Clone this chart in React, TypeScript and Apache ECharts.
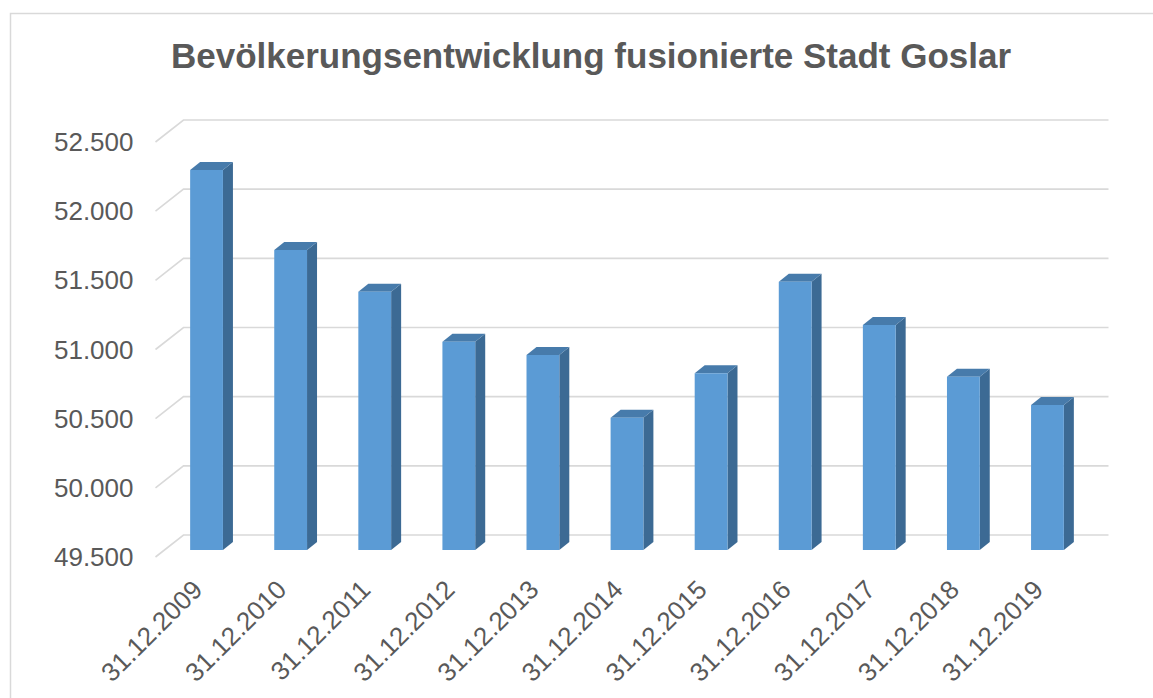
import React, { useEffect, useRef } from "react";
import * as echarts from "echarts";

const title = "Bevölkerungsentwicklung fusionierte Stadt Goslar";
const categories = [
  "31.12.2009", "31.12.2010", "31.12.2011", "31.12.2012", "31.12.2013", "31.12.2014",
  "31.12.2015", "31.12.2016", "31.12.2017", "31.12.2018", "31.12.2019",
];
const population = [52247, 51669, 51367, 51006, 50910, 50456, 50777, 51440, 51127, 50753, 50548];
const yTicks = [49500, 50000, 50500, 51000, 51500, 52000, 52500];
const yMin = 49500;
const yMax = 52500;
const yStep = 500;

const fmt = (v: number) => {
  const t = Math.floor(v / 1000);
  const r = String(v % 1000).padStart(3, "0");
  return `${t}.${r}`;
};

export default function App() {
  const ref = useRef<HTMLDivElement>(null);
  useEffect(() => {
    if (!ref.current) return;
    const chart = echarts.init(ref.current, null, { renderer: "svg" });
    const font = '"Liberation Sans", Arial, sans-serif';
    const wallDx = 28, wallDy = -22;
    const barDx = 9, barDy = -7;
    const depthDx = 10, depthDy = -8;
    chart.setOption({
      animation: false,
      backgroundColor: "#ffffff",
      textStyle: { fontFamily: font },
      graphic: [
        {
          type: "rect",
          shape: { x: 10.5, y: 13.5, width: 1160, height: 720 },
          style: { fill: "none", stroke: "#d9d9d9", lineWidth: 1.5 },
          silent: true,
        },
        {
          type: "text",
          x: 591,
          y: 55,
          style: {
            text: title,
            textAlign: "center",
            textVerticalAlign: "middle",
            font: `bold 35px ${font}`,
            fill: "#595959",
          },
        },
      ],
      grid: { left: 155.5, top: 142, width: 925, height: 415, containLabel: false },
      xAxis: {
        type: "category",
        data: categories,
        axisLine: { show: false },
        axisTick: { show: false },
        axisLabel: {
          interval: 0,
          rotate: 45,
          margin: 28,
          fontSize: 26,
          color: "#595959",
          fontFamily: font,
        },
      },
      yAxis: {
        type: "value",
        min: yMin,
        max: yMax,
        interval: yStep,
        axisLine: { show: false },
        axisTick: { show: false },
        splitLine: { show: false },
        axisLabel: {
          margin: 22,
          fontSize: 26,
          color: "#595959",
          fontFamily: font,
          padding: [6, 0, 0, 0],
          formatter: (v: number) => fmt(v),
        },
      },
      series: [
        {
          type: "custom",
          z: 1,
          silent: true,
          data: yTicks.map((v) => [0, v]),
          encode: { x: 0, y: 1 },
          renderItem: (params: any, api: any) => {
            const v = api.value(1);
            const y = api.coord([0, v])[1];
            const cs = params.coordSys;
            return {
              type: "polyline",
              shape: {
                points: [
                  [cs.x, y],
                  [cs.x + wallDx, y + wallDy],
                  [cs.x + cs.width + wallDx, y + wallDy],
                ],
              },
              style: { stroke: "#d9d9d9", lineWidth: 1.6, fill: "none" },
            };
          },
        },
        {
          type: "custom",
          z: 2,
          data: population.map((v, i) => [i, v]),
          encode: { x: 0, y: 1 },
          renderItem: (params: any, api: any) => {
            const i = api.value(0);
            const v = api.value(1);
            const top = api.coord([i, v]);
            const base = api.coord([i, yMin]);
            const band = api.size([1, 0])[0];
            const w = band * 0.39;
            const x = top[0] + barDx - w / 2;
            const yt = top[1] + barDy;
            const yb = base[1] + barDy;
            return {
              type: "group",
              children: [
                {
                  type: "polygon",
                  shape: {
                    points: [
                      [x + w, yt],
                      [x + w + depthDx, yt + depthDy],
                      [x + w + depthDx, yb + depthDy],
                      [x + w, yb],
                    ],
                  },
                  style: { fill: "#3c6a94" },
                },
                {
                  type: "polygon",
                  shape: {
                    points: [
                      [x, yt],
                      [x + depthDx, yt + depthDy],
                      [x + w + depthDx, yt + depthDy],
                      [x + w, yt],
                    ],
                  },
                  style: { fill: "#477bab" },
                },
                {
                  type: "rect",
                  shape: { x, y: yt, width: w, height: yb - yt },
                  style: { fill: "#5b9bd5" },
                },
              ],
            };
          },
        },
      ],
    });
    return () => chart.dispose();
  }, []);
  return (
    <div
      ref={ref}
      style={{ position: "fixed", left: 0, top: 0, width: 1153, height: 698 }}
    />
  );
}
